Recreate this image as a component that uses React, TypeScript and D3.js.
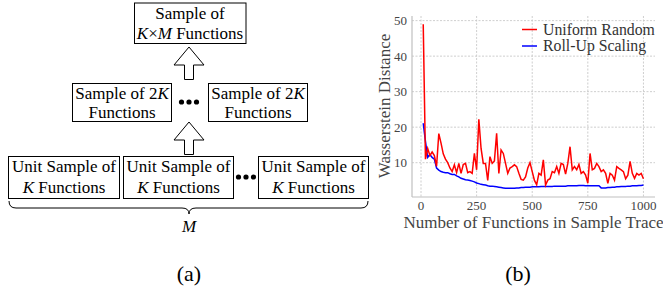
import React from "react";
import * as d3 from "d3";

const xs: number[] = d3.range(10, 1001, 10);

const uniformRandom: number[] = [
  49, 11, 14, 12, 13, 12, 9, 18.2, 15.5, 12.5,
  11, 10, 8.5, 7.5, 9.4, 7.2, 9.8, 7, 9.5, 9.8,
  7.2, 7.5, 7, 12.6, 8, 22.2, 14, 9.8, 9.8, 5,
  11.7, 9.8, 10.5, 18.3, 7.0, 13.6, 12.6, 9.8, 7.0, 8.5,
  8.9, 9.4, 8.9, 7.0, 5.3, 5.1, 6.0, 8.5, 10.0, 7.5,
  5.0, 3.8, 7.0, 6.5, 10.8, 3.7, 5.1, 5.5, 7.5, 7.2,
  8.9, 7.0, 9.8, 9.5, 6.8, 9.8, 14.5, 8.0, 8.9, 8.0,
  9.5, 7.0, 7.5, 6.5, 4.2, 12.6, 8.0, 8.4, 9.8, 8.9,
  7.5, 8.0, 7.0, 4.2, 7.0, 6.5, 5.1, 8.9, 8.4, 8.0,
  7.5, 5.5, 6.5, 10.4, 7.0, 5.6, 7.0, 6.5, 7.0, 5.5,
];

const rollUpScaling: number[] = [
  21.1, 16, 11.5, 12.3, 11.5, 11, 8.5, 7.9, 7.5, 7.3,
  7.2, 7.2, 6.9, 6.7, 6.7, 6.3, 6.0, 5.6, 5.4, 5.2,
  5.1, 5.0, 4.8, 4.6, 4.3, 4.1, 3.9, 3.8, 3.7, 3.5,
  3.4, 3.4, 3.3, 3.2, 3.1, 3.0, 2.9, 2.8, 2.8, 2.8,
  2.8, 2.8, 2.9, 2.9, 3.0, 3.0, 3.1, 3.1, 3.1, 3.2,
  3.2, 3.2, 3.2, 3.3, 3.3, 3.3, 3.3, 3.3, 3.3, 3.4,
  3.4, 3.4, 3.4, 3.4, 3.4, 3.5, 3.5, 3.5, 3.5, 3.5,
  3.6, 3.6, 3.6, 3.5, 3.5, 3.5, 3.5, 3.5, 3.5, 3.5,
  2.9, 2.9, 2.9, 3.0, 3.0, 3.1, 3.1, 3.2, 3.2, 3.3,
  3.3, 3.3, 3.4, 3.4, 3.5, 3.5, 3.5, 3.6, 3.6, 3.7,
];

const xTicks: number[] = [0, 250, 500, 750, 1000];
const yTicks: number[] = [10, 20, 30, 40, 50];
const seriesNames: string[] = ["Uniform Random", "Roll-Up Scaling"];
const seriesColors: string[] = ["#ff0000", "#0000ff"];

const SERIF = "'Liberation Serif', 'Times New Roman', serif";

function Box({ x, y, w, h, lines }: { x: number; y: number; w: number; h: number; lines: React.ReactNode[] }) {
  return (
    <g>
      <rect x={x} y={y} width={w} height={h} fill="#fff" stroke="#000" strokeWidth={1} />
      {lines}
    </g>
  );
}

function UpArrow({ cx, tip, headBase, bottom }: { cx: number; tip: number; headBase: number; bottom: number }) {
  const hw = 15;
  const sw = 4.5;
  const d = `M${cx},${tip} L${cx + hw},${headBase} L${cx + sw},${headBase} L${cx + sw},${bottom} L${cx - sw},${bottom} L${cx - sw},${headBase} L${cx - hw},${headBase} Z`;
  return <path d={d} fill="#fff" stroke="#000" strokeWidth={1} />;
}

function Dots({ cx, cy }: { cx: number; cy: number }) {
  return (
    <g>
      {[-7.5, 0, 7.5].map((o, i) => (
        <circle key={i} cx={cx + o} cy={cy} r={2.6} fill="#000" />
      ))}
    </g>
  );
}

export default function App() {
  const x = d3.scaleLinear().domain([-40.5, 1052]).range([412, 655]);
  const y = d3.scaleLinear().domain([0.34, 51.3]).range([197, 16]);
  const line = d3
    .line<number>()
    .x((_, i) => x(xs[i]))
    .y((d) => y(d));

  const fs = 17;
  const t = (cx: number, by: number, content: React.ReactNode, key: string) => (
    <text key={key} x={cx} y={by} textAnchor="middle" fontSize={fs} fontFamily={SERIF} fill="#000">
      {content}
    </text>
  );
  const K = <tspan fontStyle="italic">K</tspan>;
  const M = <tspan fontStyle="italic">M</tspan>;

  return (
    <svg width={663} height={296} style={{ position: "absolute", left: 0, top: 0, background: "#fff" }}>
      {/* (a) diagram */}
      <g>
        <Box
          x={134.5}
          y={3}
          w={111.5}
          h={40.5}
          lines={[
            t(190, 18.5, "Sample of", "a"),
            t(190, 38.5, <>{K}×{M} Functions</>, "b"),
          ]}
        />
        <UpArrow cx={189} tip={47} headBase={65} bottom={79.5} />
        <Box
          x={72.5}
          y={83.5}
          w={99}
          h={38}
          lines={[t(122, 98.5, <>Sample of 2{K}</>, "a"), t(122, 118, "Functions", "b")]}
        />
        <Dots cx={189} cy={102} />
        <Box
          x={208.5}
          y={83.5}
          w={99}
          h={38}
          lines={[t(258, 98.5, <>Sample of 2{K}</>, "a"), t(258, 118, "Functions", "b")]}
        />
        <UpArrow cx={189} tip={122} headBase={140} bottom={154.5} />
        <Box
          x={8.5}
          y={156.5}
          w={111}
          h={42}
          lines={[t(64, 171.5, "Unit Sample of", "a"), t(64, 193, <>{K} Functions</>, "b")]}
        />
        <Box
          x={123.5}
          y={156.5}
          w={110}
          h={42}
          lines={[t(178.5, 171.5, "Unit Sample of", "a"), t(178.5, 193, <>{K} Functions</>, "b")]}
        />
        <Dots cx={246} cy={177} />
        <Box
          x={258.5}
          y={156.5}
          w={110}
          h={42}
          lines={[t(313.5, 171.5, "Unit Sample of", "a"), t(313.5, 193, <>{K} Functions</>, "b")]}
        />
        <path
          d="M9,201 Q9,208 16,208 L182,208 Q189,208 189,214 Q189,208 196,208 L361,208 Q368,208 368,201"
          fill="none"
          stroke="#000"
          strokeWidth={1}
        />
        <text x={189} y={232} textAnchor="middle" fontSize={fs} fontFamily={SERIF} fontStyle="italic">
          M
        </text>
        <text x={189} y={281} textAnchor="middle" fontSize={22} fontFamily={SERIF}>
          (a)
        </text>
      </g>

      {/* (b) chart */}
      <g>
        {xTicks.map((v) => (
          <line key={"gx" + v} x1={x(v)} x2={x(v)} y1={16} y2={197} stroke="#c8c8c8" strokeWidth={0.9} strokeDasharray="2,1.5" />
        ))}
        {yTicks.map((v) => (
          <line key={"gy" + v} x1={412} x2={655} y1={y(v)} y2={y(v)} stroke="#c8c8c8" strokeWidth={0.9} strokeDasharray="2,1.5" />
        ))}
        <line x1={412} x2={412} y1={16} y2={197} stroke="#c0c0c0" strokeWidth={1.2} />
        <line x1={412} x2={655} y1={197} y2={197} stroke="#c0c0c0" strokeWidth={1.2} />
        <path d={line(rollUpScaling) || ""} fill="none" stroke={seriesColors[1]} strokeWidth={1.5} />
        <path d={line(uniformRandom) || ""} fill="none" stroke={seriesColors[0]} strokeWidth={1.5} />
        {xTicks.map((v) => (
          <text key={"tx" + v} x={x(v)} y={210} textAnchor="middle" fontSize={13} fontFamily={SERIF} fill="#444">
            {v}
          </text>
        ))}
        {yTicks.map((v) => (
          <text key={"ty" + v} x={407} y={y(v) + 4.5} textAnchor="end" fontSize={13} fontFamily={SERIF} fill="#444">
            {v}
          </text>
        ))}
        <text x={533.5} y={228} textAnchor="middle" fontSize={17} fontFamily={SERIF} fill="#444">
          Number of Functions in Sample Trace
        </text>
        <text
          transform={`translate(390,106) rotate(-90)`}
          textAnchor="middle"
          fontSize={17}
          fontFamily={SERIF}
          fill="#444"
        >
          Wasserstein Distance
        </text>
        {seriesNames.map((n, i) => (
          <g key={n}>
            <line x1={522} x2={537} y1={29.5 + i * 16.5} y2={29.5 + i * 16.5} stroke={seriesColors[i]} strokeWidth={1.5} />
            <text x={543} y={34.5 + i * 16.5} fontSize={15.8} fontFamily={SERIF} fill="#333">
              {n}
            </text>
          </g>
        ))}
        <text x={518} y={281} textAnchor="middle" fontSize={22} fontFamily={SERIF}>
          (b)
        </text>
      </g>
    </svg>
  );
}
